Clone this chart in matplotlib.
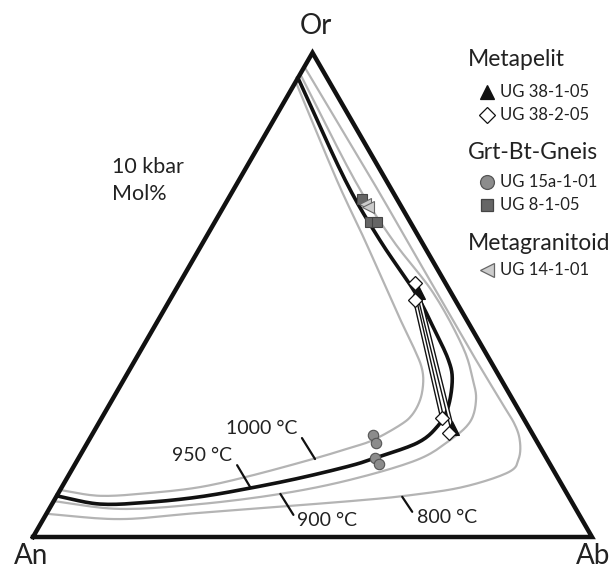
import numpy as np
import matplotlib
matplotlib.use("Agg")
import matplotlib.pyplot as plt

plt.rcParams['font.family'] = ['Lato', 'DejaVu Sans']

# ---- data: compositions in mol fraction (Ab, Or); An = 1 - Ab - Or ----
# isotherms at 10 kbar, listed from the An-Or edge near Or round to the An corner
iso1000_ab = [0.000, 0.175, 0.287, 0.420, 0.490, 0.521, 0.539, 0.551, 0.552, 0.541, 0.508, 0.475, 0.420, 0.325, 0.247, 0.164, 0.078, 0.000]
iso1000_or = [0.940, 0.737, 0.613, 0.463, 0.386, 0.349, 0.318, 0.283, 0.252, 0.231, 0.200, 0.184, 0.161, 0.126, 0.103, 0.091, 0.085, 0.097]

iso950_ab = [0.000, 0.190, 0.314, 0.432, 0.505, 0.560, 0.588, 0.609, 0.609, 0.590, 0.530, 0.494, 0.417, 0.338, 0.257, 0.173, 0.086, 0.000]
iso950_or = [0.948, 0.737, 0.613, 0.504, 0.427, 0.366, 0.324, 0.266, 0.227, 0.194, 0.163, 0.147, 0.122, 0.101, 0.083, 0.072, 0.068, 0.085]

iso900_ab = [0.000, 0.207, 0.337, 0.464, 0.573, 0.625, 0.651, 0.663, 0.646, 0.607, 0.508, 0.398, 0.265, 0.127, 0.000]
iso900_or = [0.956, 0.737, 0.613, 0.504, 0.392, 0.324, 0.283, 0.238, 0.200, 0.159, 0.118, 0.089, 0.068, 0.058, 0.074]

iso800_ab = [0.000, 0.238, 0.356, 0.481, 0.589, 0.694, 0.745, 0.772, 0.788, 0.784, 0.720, 0.636, 0.530, 0.274, 0.137, 0.000]
iso800_or = [0.971, 0.737, 0.619, 0.494, 0.386, 0.283, 0.233, 0.198, 0.162, 0.134, 0.104, 0.087, 0.074, 0.050, 0.037, 0.048]

iso_labels = ['1000 °C', '950 °C', '900 °C', '800 °C']
label_ab = [0.424, 0.337, 0.398, 0.619]
label_or = [0.161, 0.103, 0.089, 0.083]

# samples
ug38_1_ab = [0.436, 0.637]          # Metapelit, UG 38-1-05
ug38_1_or = [0.506, 0.225]
ug38_2_ab = [0.421, 0.439, 0.609, 0.637]   # Metapelit, UG 38-2-05
ug38_2_or = [0.525, 0.489, 0.246, 0.215]
ug15a_ab = [0.503, 0.517, 0.530, 0.544]    # Grt-Bt-Gneis, UG 15a-1-01
ug15a_or = [0.211, 0.194, 0.163, 0.151]
ug8_ab = [0.240, 0.278, 0.290]             # Grt-Bt-Gneis, UG 8-1-05
ug8_or = [0.698, 0.650, 0.650]
ug14_ab = [0.250, 0.259]                   # Metagranitoid, UG 14-1-01
ug14_or = [0.688, 0.681]

# tie lines (top -> bottom)
tie_ab = [[0.436, 0.637], [0.439, 0.609]]
tie_or = [[0.506, 0.225], [0.489, 0.246]]

S3 = np.sqrt(3) / 2


def tern(ab, orr):
    ab = np.asarray(ab, float)
    orr = np.asarray(orr, float)
    return ab + orr / 2, orr * S3


def smooth(x, y, n=12):
    x = np.asarray(x); y = np.asarray(y)
    P = np.column_stack([x, y])
    P = np.vstack([2 * P[0] - P[1], P, 2 * P[-1] - P[-2]])
    out = []
    t = np.linspace(0, 1, n, endpoint=False)
    for i in range(1, len(P) - 2):
        p0, p1, p2, p3 = P[i - 1], P[i], P[i + 1], P[i + 2]
        for tt in t:
            out.append(0.5 * ((2 * p1) + (-p0 + p2) * tt + (2 * p0 - 5 * p1 + 4 * p2 - p3) * tt ** 2
                              + (-p0 + 3 * p1 - 3 * p2 + p3) * tt ** 3))
    out.append(P[-2])
    out = np.array(out)
    return out[:, 0], out[:, 1]


fig = plt.figure(figsize=(6.16, 5.69), dpi=100)
ax = fig.add_axes([0, 0, 1, 1])
ax.set_xlim(-33 / 559, 583 / 559)
ax.set_ylim(-32 / 559.2, 537 / 559.2)
ax.axis('off')

gray = '#b4b4b4'
for ab, orr in [(iso1000_ab, iso1000_or), (iso900_ab, iso900_or), (iso800_ab, iso800_or)]:
    x, y = smooth(*tern(ab, orr))
    ax.plot(x, y, color=gray, lw=1.6, solid_capstyle='butt', zorder=2)
x, y = smooth(*tern(iso950_ab, iso950_or))
ax.plot(x, y, color='#111111', lw=2.6, zorder=3)

# triangle frame
tx, ty = tern([0, 1, 0, 0], [0, 0, 1, 0])
ax.plot(tx, ty, color='#111111', lw=3.2, solid_joinstyle='miter', zorder=4)

# tie lines
for ab, orr in zip(tie_ab, tie_or):
    x, y = tern(ab, orr)
    ax.plot(x, y, color='#111111', lw=3.2, zorder=5)
    ax.plot(x, y, color='white', lw=1.2, zorder=5)

# isotherm labels with leaders
lead = [(-9.4, 15.1), (-9.4, 15.8), (9.4, -15.1), (7.2, -10.8)]
txt = [(-38.2, 22.3), (-34.6, 23.0), (33.8, -19.4), (32.4, -15.1)]
for lab, ab, orr, lo, to in zip(iso_labels, label_ab, label_or, lead, txt):
    x, y = tern(ab, orr)
    ax.annotate('', xy=(x, y), xytext=lo, textcoords='offset points',
                arrowprops=dict(arrowstyle='-', color='#111111', lw=1.6, shrinkA=0, shrinkB=0), zorder=4)
    ax.annotate(lab, xy=(x, y), xytext=to, textcoords='offset points', ha='center', va='center',
                fontsize=14, color='#222222')

# samples
x, y = tern(ug8_ab, ug8_or)
ax.plot(x, y, 's', ms=7.5, mfc='#666666', mec='#444444', mew=0.8, ls='none', zorder=6)
x, y = tern(ug14_ab, ug14_or)
ax.plot(x, y, '<', ms=9, mfc='#cccccc', mec='#666666', mew=0.8, ls='none', zorder=7)
x, y = tern(ug15a_ab, ug15a_or)
ax.plot(x, y, 'o', ms=7.5, mfc='#8c8c8c', mec='#555555', mew=0.8, ls='none', zorder=6)
x, y = tern(ug38_1_ab, ug38_1_or)
ax.plot(x, y, '^', ms=10, mfc='#111111', mec='#111111', mew=0.8, ls='none', zorder=6)
x, y = tern(ug38_2_ab, ug38_2_or)
ax.plot(x, y, 'D', ms=7.5, mfc='white', mec='#111111', mew=0.9, ls='none', zorder=7)

W, H = 616, 569


def ftext(px, py, s, **kw):
    fig.text(px / W, 1 - py / H, s, **kw)


ftext(316, 26, 'Or', fontsize=20, ha='center', va='center', color='#222222')
ftext(31, 556, 'An', fontsize=20, ha='center', va='center', color='#222222')
ftext(593, 556, 'Ab', fontsize=20, ha='center', va='center', color='#222222')
ftext(112, 167, '10 kbar', fontsize=15.5, ha='left', va='center', color='#222222')
ftext(112, 194, 'Mol%', fontsize=15.5, ha='left', va='center', color='#222222')

# legend
ftext(468, 59, 'Metapelit', fontsize=16.5, ha='left', va='center', color='#222222')
ftext(468, 152, 'Grt-Bt-Gneis', fontsize=16.5, ha='left', va='center', color='#222222')
ftext(468, 243, 'Metagranitoid', fontsize=16.5, ha='left', va='center', color='#222222')
items = [(92, '^', dict(ms=10, mfc='#111111', mec='#111111'), 'UG 38-1-05'),
         (115, 'D', dict(ms=8, mfc='white', mec='#111111'), 'UG 38-2-05'),
         (182, 'o', dict(ms=10, mfc='#8c8c8c', mec='#555555'), 'UG 15a-1-01'),
         (205, 's', dict(ms=9, mfc='#666666', mec='#444444'), 'UG 8-1-05'),
         (270, '<', dict(ms=10, mfc='#cccccc', mec='#666666'), 'UG 14-1-01')]
for py, m, kw, lab in items:
    fig.lines.append(matplotlib.lines.Line2D([487 / W], [1 - py / H], marker=m, ls='none', mew=0.9,
                                             transform=fig.transFigure, figure=fig, **kw))
    ftext(500, py, lab, fontsize=12, ha='left', va='center', color='#222222')

fig.savefig('out.png', dpi=100)
